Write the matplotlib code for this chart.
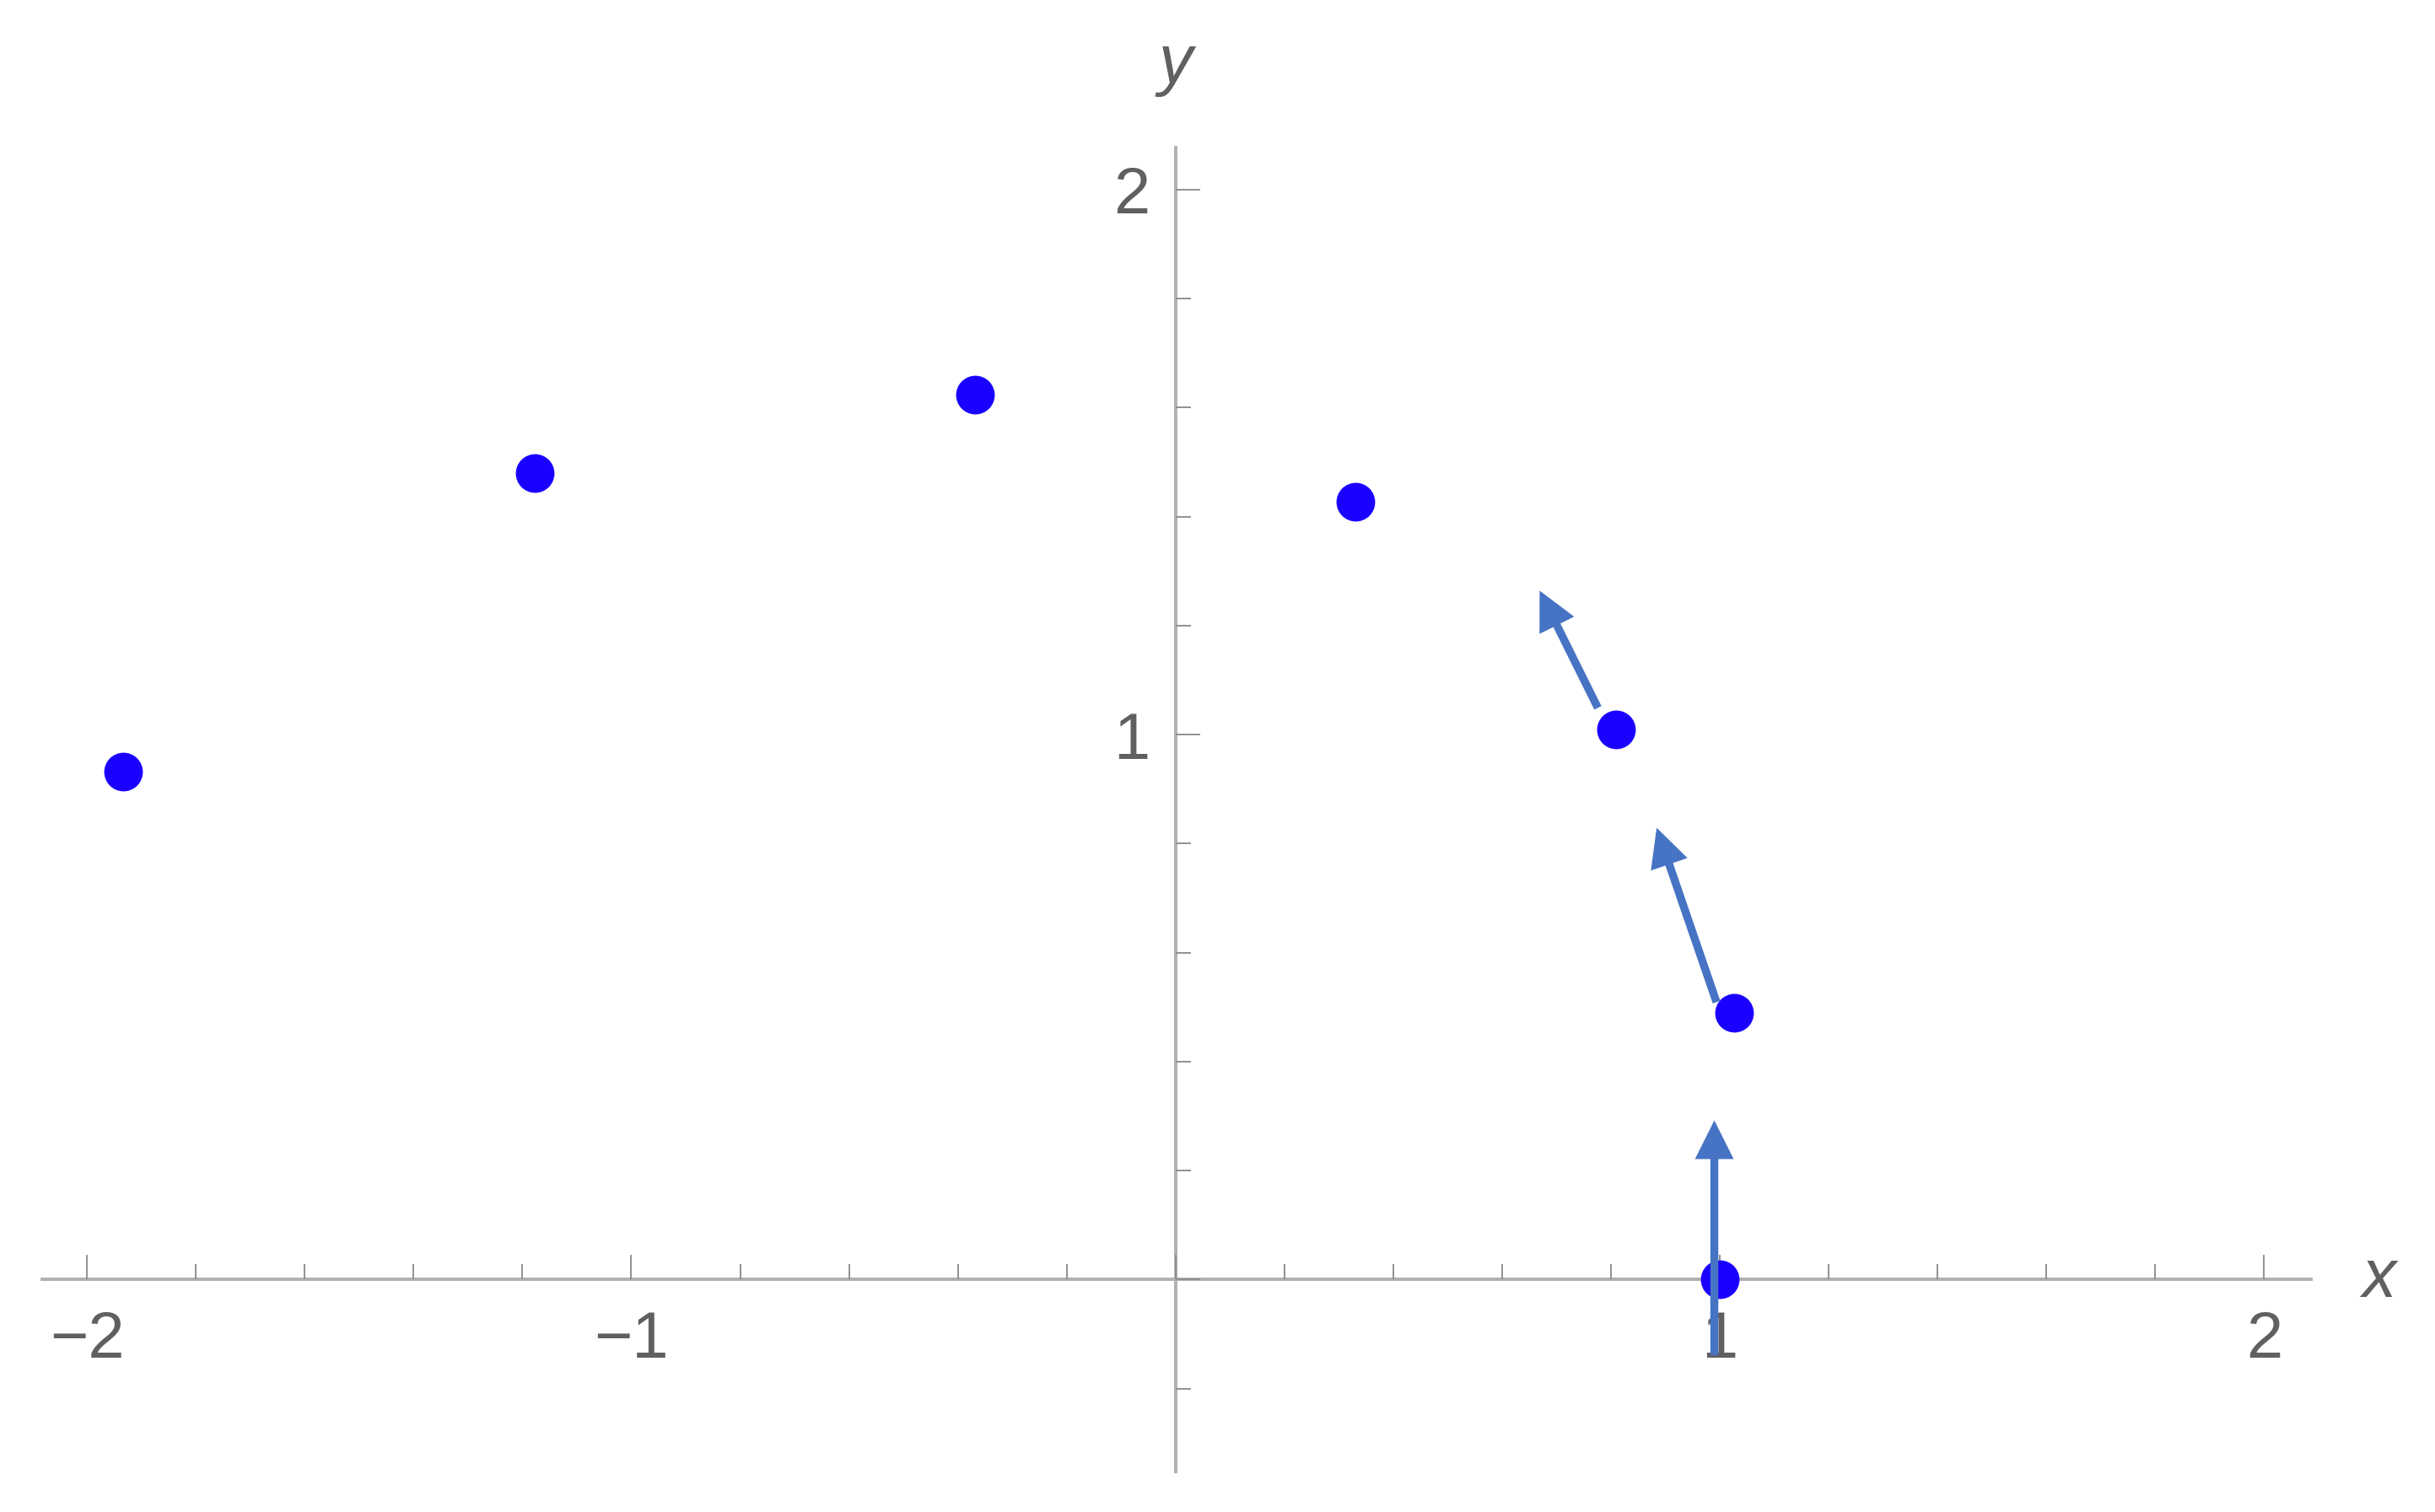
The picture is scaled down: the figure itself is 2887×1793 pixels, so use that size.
import matplotlib
matplotlib.use("Agg")
import matplotlib.pyplot as plt
from matplotlib.ticker import FixedLocator, FixedFormatter, MultipleLocator

# Data
pts_x = [-1.934, -1.178, -0.368, 0.331, 0.810, 1.027, 1.0]
pts_y = [0.932, 1.479, 1.624, 1.427, 1.009, 0.490, 0.0]

arrow_tail_x = [0.990, 0.994, 0.776]
arrow_tail_y = [-0.139, 0.509, 1.049]
arrow_head_x = [0.990, 0.884, 0.669]
arrow_head_y = [0.292, 0.829, 1.264]

x_major = [-2, -1, 0, 1, 2]
x_labels = ["\u22122", "\u22121", "", "1", "2"]
y_major = [0, 1, 2]
y_labels = ["", "1", "2"]

plt.rcParams['font.family'] = ['Liberation Sans', 'DejaVu Sans']

fig = plt.figure(figsize=(28.87, 17.93), dpi=100)
ax = fig.add_axes([0.0172, 0.0265, 0.9318, 0.8759])
ax.set_xlim(-2.083, 2.086)
ax.set_ylim(-0.353, 2.077)

axis_color = "#b0b0b0"
text_color = "#606060"
for s in ["top", "right"]:
    ax.spines[s].set_visible(False)
for s in ["left", "bottom"]:
    ax.spines[s].set_position(("data", 0))
    ax.spines[s].set_color(axis_color)
    ax.spines[s].set_linewidth(2.8)
    ax.spines[s].set_zorder(1)

ax.xaxis.set_major_locator(FixedLocator(x_major))
ax.xaxis.set_major_formatter(FixedFormatter(x_labels))
ax.yaxis.set_major_locator(FixedLocator(y_major))
ax.yaxis.set_major_formatter(FixedFormatter(y_labels))
ax.xaxis.set_minor_locator(MultipleLocator(0.2))
ax.yaxis.set_minor_locator(MultipleLocator(0.2))

ax.tick_params(axis="both", which="major", direction="in", length=21, width=1.4,
               color="#909090", labelsize=56, labelcolor=text_color)
ax.tick_params(axis="both", which="minor", direction="in", length=13, width=1.4,
               color="#909090")
ax.tick_params(axis="x", which="major", pad=26)
ax.tick_params(axis="y", which="major", pad=22)

ax.scatter(pts_x, pts_y, s=33**2, color="#1a00ff", zorder=3, linewidths=0,
           clip_on=False)

for tx, ty, hx, hy in zip(arrow_tail_x, arrow_tail_y, arrow_head_x, arrow_head_y):
    ax.annotate("", xy=(hx, hy), xytext=(tx, ty),
                arrowprops=dict(arrowstyle="simple,head_length=3.3,head_width=3.3,tail_width=0.68",
                                mutation_scale=10, lw=0, color="#4673c4",
                                shrinkA=0, shrinkB=0),
                zorder=4, annotation_clip=False)

ax.text(2.211, 0.0, "x", fontsize=58, style="italic", color=text_color,
        ha="center", va="center", clip_on=False)
ax.text(0.0, 2.229, "y", fontsize=58, style="italic", color=text_color,
        ha="center", va="center", clip_on=False)

fig.savefig("out.png", dpi=100)
